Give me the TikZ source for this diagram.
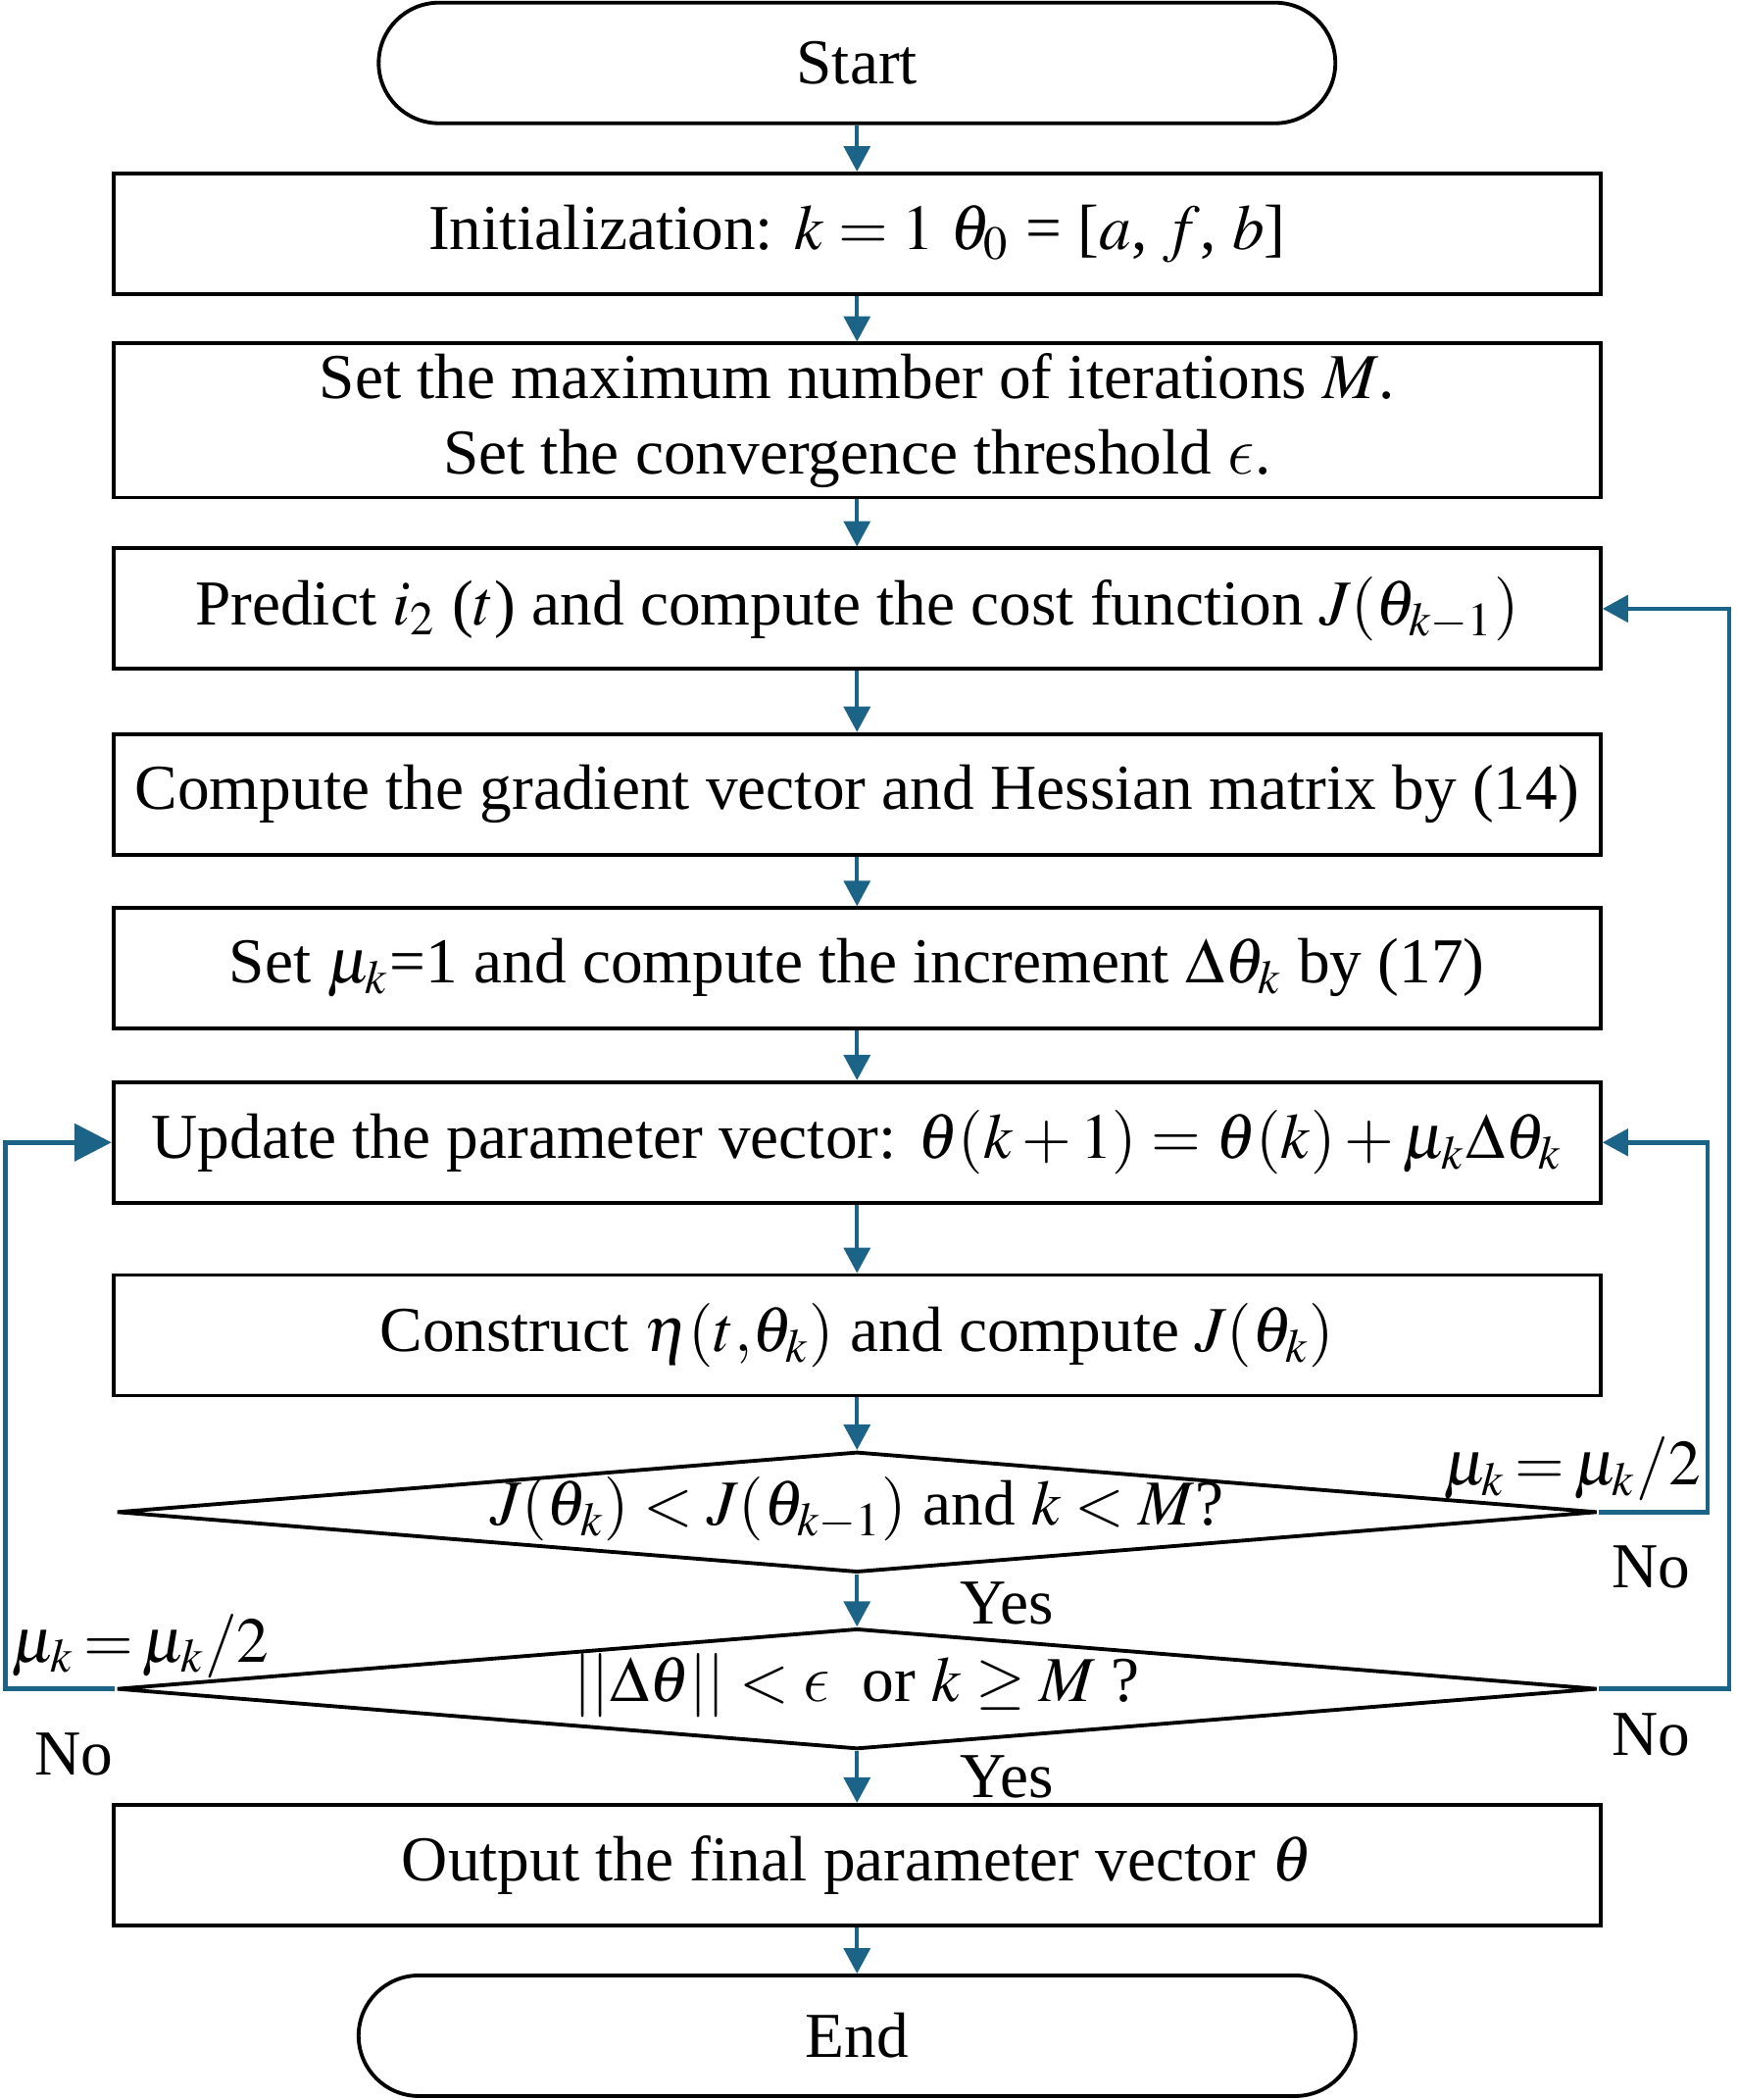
\documentclass[tikz,border=0pt]{standalone}
\usepackage{mathptmx}
\usepackage{fontspec}
\setmainfont{Liberation Serif}
\usetikzlibrary{arrows.meta,shapes.geometric}
\definecolor{flowblue}{RGB}{27,99,135}
\DeclareSymbolFont{cmletters}{OML}{cmm}{m}{it}
\DeclareMathSymbol{\lunateeps}{\mathord}{cmletters}{"0F}

\begin{document}
\begin{tikzpicture}[x=0.01cm, y=-0.01cm,
	font=\fontsize{13.6}{16.2}\selectfont,
	box/.style={draw, line width=0.8pt, minimum width=11.1cm, minimum height=0.9cm, inner sep=2pt, align=center},
	term/.style={draw, line width=0.8pt, rounded corners=0.45cm, minimum height=0.9cm},
	test/.style={draw, diamond, line width=0.8pt, aspect=12.3, inner sep=0pt, minimum width=11.05cm, minimum height=0.9cm, text height=1.5ex, text depth=0.3ex},
	lbl/.style={inner sep=1pt, execute at begin node={\thickmuskip=2.5mu}},
	flow/.style={draw=flowblue, line width=0.8pt, -{Triangle[width=5.6pt,length=5.4pt]}},
	loop/.style={flow, line width=1pt}]

\useasboundingbox (0,0) rectangle (1297,1568);

% Bloques
\node[term, minimum width=7.14cm] (start) at (640,47) {Start};
\node[box] (init) at (640,174.5) {Initialization: $k = 1$ $\theta_0$ = [$a$, $f$, $b$]};
\node[box, minimum height=1.12cm] (setm) at (640,314) {Set the maximum number of iterations $M$.\\ Set the convergence threshold $\lunateeps$.};
\node[box] (predict) at (640,454.5) {Predict $i_2$ ($t$) and compute the cost function $J(\theta_{k-1})$};
\node[box] (grad) at (640,593) {Compute the gradient vector and Hessian matrix by (14)};
\node[box] (setmu) at (640,723) {Set $\mu_k$=1 and compute the increment $\Delta\theta_k$ by (17)};
\node[box] (update) at (640,853) {Update the parameter vector: $\theta(k + 1) = \theta(k) + \mu_k\Delta\theta_k$};
\node[box] (construct) at (640,997) {Construct $\eta(t{,}\theta_k)$ and compute $J(\theta_k)$};
\node[test] (test1) at (640,1129) {$J(\theta_k) < J(\theta_{k-1})$ and $k < M$?};
\node[test] (test2) at (640,1261) {$||\Delta\theta|| < \lunateeps$\ \ or $k \geq M$ ?};
\node[box] (output) at (640,1392.5) {Output the final parameter vector $\theta$};
\node[term, minimum width=7.44cm] (end) at (640,1520) {End};

% Etiquetas
\node[lbl] (half1) at (1174,1097) {$\mu_k = \mu_k/2$};
\node[lbl] (half2) at (105,1229) {$\mu_k = \mu_k/2$};
\node[lbl] (no1) at (1233,1170) {No};
\node[lbl] (no2) at (1233,1295) {No};
\node[lbl] (no3) at (55,1310) {No};
\node[lbl] (yes1) at (752,1197) {Yes};
\node[lbl] (yes2) at (752,1327) {Yes};

% Flechas
\foreach \a/\b in {start/init, init/setm, setm/predict, predict/grad, grad/setmu,
	setmu/update, update/construct, construct/test1, test1/test2, test2/output, output/end}
	\draw[flow] (\a) -- (\b);

\draw[loop] (test1.east) -- ++(81,0) |- (update.east);
\draw[loop] (test2.east) -- ++(97,0) |- (predict.east);
\draw[loop, -{Triangle[width=7.9pt,length=7.9pt]}] (test2.west) -- ++(-82,0) |- (update.west);
\end{tikzpicture}
\end{document}
